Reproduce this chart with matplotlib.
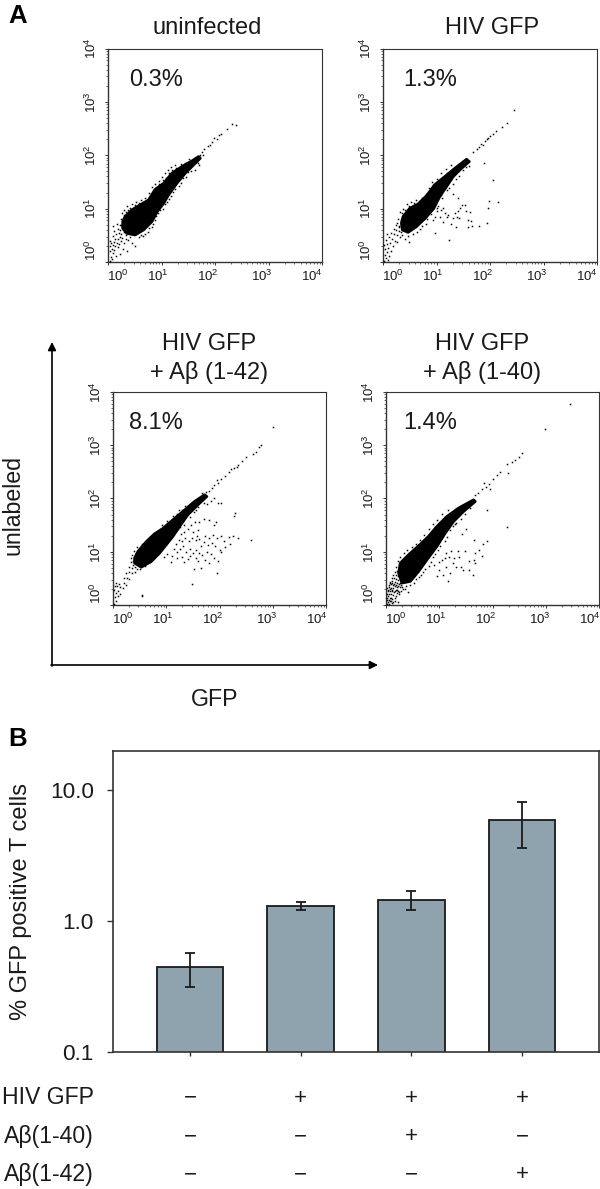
#!/usr/bin/env python3
"""Flow cytometry panels (A) and GFP positive T cell bars (B)."""
import matplotlib
matplotlib.use("Agg")
import matplotlib.pyplot as plt
import numpy as np
from matplotlib.ticker import LogLocator, NullFormatter

plt.rcParams["font.family"] = ["Liberation Sans", "DejaVu Sans"]
plt.rcParams["mathtext.fontset"] = "custom"
plt.rcParams["mathtext.rm"] = "Liberation Sans"

W, H = 600, 1189
INK = "#1a1a1a"
FRAME = "#333333"
BAR = "#8fa3ae"

# Dot plot data, as log10 of (GFP, unlabeled). *_CORE is the outline of the
# solid black cloud, *_DOTS the single events that can be told apart.
UNINF_CORE = [(.275, .756), (.319, .85), (.444, .975), (.60, 1.07), (.756, 1.16), (.881, 1.36),
              (1.04, 1.475), (1.194, 1.663), (1.381, 1.788), (1.569, 1.894), (1.694, 1.975),
              (1.725, 1.944), (1.60, 1.819), (1.444, 1.663), (1.288, 1.475), (1.131, 1.256),
              (1.04, 1.10), (.92, .944), (.82, .756), (.663, .60), (.506, .506), (.35, .5375),
              (.275, .631)]
UNINF_DOTS = [(.03, .02), (.05, .1), (.08, .05), (.1, .16), (.04, .2), (.07, .25), (.12, .22), (.15, .12),
              (.03, .3), (.09, .32), (.14, .3), (.18, .28), (.06, .36), (.11, .38), (.16, .36), (.2, .34),
              (.24, .4), (.04, .4), (.13, .44), (.19, .43), (.09, .48), (.23, .47), (.27, .45), (.15, .52),
              (.2, .55), (.25, .52), (.12, .58), (.18, .62), (.23, .6), (.1, .68), (.22, .7), (.16, .72),
              (.26, .66), (.28, .74), (.25, .8), (.33, .44), (.38, .42), (.45, .36), (.5, .3), (.3, .35),
              (.28, .25), (.22, .15), (.35, .2), (.3, .88), (.34, .94), (.38, .98), (.42, 1.02), (.5, 1.06),
              (.58, 1.1), (.66, 1.13), (.74, 1.17), (.8, 1.24), (.84, 1.32), (.9, 1.38), (.96, 1.46),
              (1.02, 1.54), (1.08, 1.58), (1.14, 1.66), (1.2, 1.72), (1.28, 1.77), (1.36, 1.83), (1.44, 1.86),
              (1.52, 1.93), (.62, .5), (.7, .52), (.76, .64), (.84, .72), (.9, .86), (.98, .98), (1.06, 1.08),
              (1.14, 1.18), (1.22, 1.32), (1.32, 1.42), (1.4, 1.58), (1.5, 1.68), (1.62, 1.72), (1.68, 1.85),
              (1.64, 1.9), (1.72, 2.0), (1.76, 2.06), (1.8, 2.12), (1.86, 2.18), (1.9, 2.2), (1.94, 2.25),
              (1.98, 2.32), (2.04, 2.31), (2.08, 2.38), (2.12, 2.4), (2.22, 2.5), (2.32, 2.58), (2.4, 2.56),
              (1.7, 1.82), (1.78, 2.0), (.26, .92), (.3, .98), (.36, 1.04), (.44, 1.08), (.52, 1.12),
              (.62, 1.16), (.7, 1.2), (.77, 1.3), (.82, 1.4), (.88, 1.46), (.95, 1.52), (1.0, 1.6),
              (1.06, 1.66), (1.12, 1.72), (1.18, 1.78), (1.26, 1.82), (.58, .46), (.66, .48), (.74, .56),
              (.82, .66), (.88, .78), (.94, .92), (1.02, 1.0), (1.1, 1.12), (1.18, 1.24), (1.26, 1.36),
              (1.36, 1.48), (1.46, 1.6), (1.56, 1.7), (.42, .46), (.34, .5), (.3, .56), (.25, .7)]

HIV_CORE = [(.344, .725), (.375, .85), (.50, 1.006), (.656, 1.0875), (.8125, 1.24), (.969, 1.45),
            (1.156, 1.60), (1.344, 1.756), (1.5625, 1.925), (1.6125, 1.881), (1.469, 1.756), (1.3125, 1.60),
            (1.1875, 1.4125), (1.06, 1.225), (.95, 1.006), (.79, .819), (.625, .6625), (.469, .556),
            (.3625, .60)]
HIV_DOTS = [(.02, .02), (.05, .08), (.09, .04), (.03, .14), (.07, .18), (.12, .12), (.04, .24), (.1, .26),
            (.15, .2), (.02, .32), (.08, .34), (.14, .36), (.18, .3), (.05, .42), (.11, .46), (.17, .44),
            (.22, .4), (.27, .38), (.08, .52), (.15, .54), (.21, .52), (.26, .5), (.31, .46), (.2, .62),
            (.25, .6), (.3, .58), (.24, .7), (.29, .68), (.33, .78), (.28, .8), (.36, .5), (.42, .44),
            (.48, .38), (.36, .92), (.42, .98), (.48, 1.04), (.58, 1.1), (.7, 1.14), (.78, 1.2), (.86, 1.3),
            (.94, 1.44), (1.04, 1.5), (1.1, 1.58), (1.2, 1.66), (1.3, 1.74), (1.42, 1.84), (1.5, 1.9),
            (.7, .62), (.8, .72), (.9, .9), (1.0, 1.02), (1.1, 1.2), (1.24, 1.38), (1.36, 1.56),
            (1.5, 1.72), (1.6, 1.8),
            (2.45, 2.85), (2.31, 2.6), (2.22, 2.53), (2.11, 2.45), (2.05, 2.39), (1.97, 2.32), (1.91, 2.26),
            (1.83, 2.21), (1.75, 2.11), (1.68, 2.06), (1.8, 2.16), (1.87, 2.2), (1.94, 2.3), (2.0, 2.36),
            (1.88, 1.85), (2.06, 1.53), (1.98, 1.14), (1.96, 1.02), (2.15, 1.12), (1.94, .73), (1.79, .68),
            (1.67, .68), (1.59, .66), (1.65, .76), (1.59, .79), (1.62, .94), (1.53, 1.07), (1.47, 1.07),
            (1.44, 1.01), (1.41, .96), (1.39, .85), (1.42, .82), (1.37, .66), (1.3, .82), (1.22, .88),
            (1.16, .91), (1.09, .98), (1.03, 1.04), (.97, .85), (.94, .79), (1.24, .41), (.97, .55),
            (1.41, 1.19), (1.3, 1.28), (1.13, 1.01), (1.19, .85), (1.06, .85), (1.0, .95), (1.55, .95),
            (1.27, .72), (1.12, .75), (1.35, .92), (.32, .94), (.38, 1.0), (.44, 1.08), (.52, 1.12),
            (.62, 1.16), (.72, 1.2), (.8, 1.28), (.86, 1.38), (.92, 1.5), (1.0, 1.56), (1.08, 1.66),
            (1.18, 1.74), (1.28, 1.82), (.46, .48), (.56, .52), (.64, .56), (.72, .68), (.82, .8),
            (.9, .98), (.98, 1.1), (1.08, 1.26), (1.2, 1.34), (1.3, 1.46), (1.42, 1.62), (1.56, 1.78),
            (.34, .56), (.3, .66), (.27, .74)]

A42_CORE = [(.406, .881), (.469, 1.006), (.625, 1.19), (.781, 1.3375), (.9375, 1.4375), (1.125, 1.60),
            (1.3125, 1.756), (1.531, 1.944), (1.719, 2.069), (1.7625, 2.0375), (1.594, 1.881), (1.406, 1.694),
            (1.25, 1.475), (1.125, 1.2875), (1.0, 1.131), (.875, .975), (.72, .819), (.53, .71),
            (.406, .7875)]
A42_DOTS = [(.02, .02), (.06, .08), (.03, .15), (.09, .16), (.05, .22), (.02, .28), (.1, .26), (.14, .2),
            (.03, .35), (.08, .36), (.13, .34), (.18, .32), (.05, .42), (.12, .4), (.2, .42), (.25, .38),
            (.55, .17), (.2, .5), (.26, .5), (.3, .48), (.24, .6), (.3, .62), (.36, .6), (.3, .72), (.36, .7),
            (.38, .82), (.34, .8), (.42, .62), (.45, .68), (.44, .98), (.5, 1.06), (.6, 1.14), (.7, 1.22),
            (.82, 1.3), (.9, 1.42), (1.0, 1.5), (1.1, 1.6), (1.2, 1.7), (1.3, 1.78), (1.4, 1.86), (1.5, 1.94),
            (1.75, 2.12), (1.8, 2.15), (1.85, 2.2), (1.9, 2.25), (1.97, 2.3), (2.02, 2.36), (2.1, 2.43),
            (2.18, 2.5), (2.28, 2.57), (2.35, 2.63), (2.42, 2.71), (2.49, 2.78), (2.75, 2.96), (2.78, 3.0),
            (3.0, 3.35), (2.62, 2.84), (2.68, 2.88), (2.22, 2.55), (2.32, 2.6), (1.68, 2.1), (1.96, 2.34),
            (1.9, 2.0), (1.98, 1.92), (1.84, 1.96), (1.76, 1.9), (1.7, 1.92), (1.6, 1.84), (1.52, 1.75),
            (2.02, 1.92), (2.28, 1.68), (2.3, 1.72), (1.94, 1.55), (1.9, 1.5), (1.8, 1.6), (1.7, 1.62),
            (1.62, 1.56), (1.54, 1.55), (1.46, 1.5), (1.4, 1.42), (1.34, 1.38), (1.28, 1.34), (1.5, 1.38),
            (1.6, 1.4), (1.72, 1.3), (1.8, 1.26), (1.88, 1.32), (1.95, 1.25), (2.02, 1.3), (2.08, 1.2),
            (2.18, 1.28), (2.25, 1.3), (2.34, 1.26), (2.6, 1.22), (2.2, 1.14), (2.1, 1.08), (2.0, 1.04),
            (1.92, 1.1), (1.86, 1.16), (1.78, 1.12), (1.7, 1.18), (1.62, 1.24), (1.55, 1.22), (1.48, 1.26),
            (1.42, 1.2), (1.36, 1.26), (1.3, 1.2), (1.24, 1.22), (1.18, 1.14), (1.14, 1.06), (1.2, 1.0),
            (1.26, 1.06), (1.32, 1.1), (1.38, 1.0), (1.44, 1.06), (1.5, .98), (1.56, 1.04), (1.62, .98),
            (1.68, .94), (1.76, 1.0), (1.84, .96), (1.9, .88), (1.98, .82), (1.8, .78), (1.6, .82),
            (1.52, .68), (1.66, .7), (1.95, .6), (1.55, .88), (1.4, .86), (1.3, .9), (1.2, .88), (1.1, .92),
            (1.02, .96), (.95, .9), (1.48, .4), (.55, .18), (1.08, .8), (1.72, .84), (1.44, .92), (1.34, .8),
            (2.02, 1.0), (1.58, 1.3), (1.66, 1.1), (1.26, 1.46), (1.33, 1.5), (.36, .94), (.4, 1.02),
            (.46, 1.08), (.54, 1.14), (.64, 1.2), (.74, 1.26), (.84, 1.38), (.92, 1.5), (1.02, 1.58),
            (1.12, 1.68), (1.24, 1.78), (1.36, 1.86), (.42, .72), (.5, .68), (.6, .74), (.7, .8), (.78, .9),
            (.86, 1.02), (.96, 1.12), (1.04, 1.22), (1.12, 1.34), (1.22, 1.42), (1.32, 1.58), (1.44, 1.66),
            (1.56, 1.78), (.38, .76), (.33, .88)]

A40_CORE = [(.2375, .6), (.269, .7875), (.425, .944), (.644, 1.14), (.8, 1.29), (.956, 1.475), (1.144, 1.6625),
            (1.3625, 1.819), (1.644, 1.975), (1.675, 1.944), (1.456, 1.756), (1.269, 1.569), (1.1125, 1.35),
            (.956, 1.10), (.769, .85), (.6125, .631), (.456, .444), (.3, .4125)]
A40_DOTS = [(.01, .02), (.03, .05), (.06, .02), (.02, .09), (.05, .1), (.09, .07), (.12, .03), (.01, .14),
            (.04, .16), (.08, .14), (.12, .12), (.16, .08), (.02, .2), (.06, .21), (.1, .2), (.14, .18),
            (.19, .16), (.22, .06), (.03, .26), (.07, .27), (.11, .26), (.15, .24), (.2, .22), (.25, .2),
            (.02, .32), (.06, .33), (.1, .32), (.14, .31), (.18, .29), (.23, .27), (.28, .26), (.05, .38),
            (.09, .39), (.13, .38), (.17, .36), (.21, .34), (.26, .33), (.31, .3), (.08, .44), (.12, .45),
            (.16, .43), (.2, .41), (.24, .4), (.29, .38), (.36, .3), (.42, .25), (.11, .5), (.15, .51),
            (.19, .49), (.23, .47), (.13, .56), (.18, .56), (.22, .55), (.16, .62), (.2, .64), (.19, .72),
            (.24, .76), (.3, .84), (.36, .9), (.44, .98), (.52, 1.02), (.6, 1.1), (.68, 1.18), (.76, 1.26),
            (.84, 1.36), (.92, 1.46), (1.0, 1.54), (1.1, 1.65), (1.2, 1.72), (1.32, 1.8), (1.44, 1.88),
            (.52, .42), (.62, .52), (.7, .62), (.8, .74), (.88, .9), (.98, 1.04), (1.1, 1.2), (1.2, 1.4),
            (1.32, 1.54), (1.48, 1.7), (1.58, 1.82),
            (3.45, 3.77), (2.98, 3.3), (2.55, 2.86), (2.49, 2.78), (2.43, 2.72), (2.37, 2.68), (2.27, 2.64),
            (2.3, 2.47), (2.14, 2.5), (2.08, 2.44), (2.0, 2.36), (1.93, 2.28), (1.87, 2.22), (1.8, 2.18),
            (1.73, 2.1), (1.96, 2.18), (1.68, 2.06), (1.84, 2.3), (1.9, 1.78), (2.28, 1.46), (1.9, 1.2),
            (1.66, 1.22), (1.83, 1.14), (1.75, 1.03), (1.67, .98), (1.8, .92), (1.65, .85), (1.67, .78),
            (1.63, .57), (1.55, .65), (1.45, .66), (1.31, .72), (1.2, .61), (1.07, .56), (1.17, .45),
            (.95, .55), (1.43, 1.33), (1.5, 1.42), (1.3, 1.52), (1.35, 1.02), (1.48, 1.02), (1.22, 1.01),
            (1.28, .88), (1.18, .9), (1.1, .88), (1.05, .84), (1.13, .98), (1.0, .8), (1.25, .78), (.9, .75),
            (1.4, .72), (1.55, .82), (1.0, .65), (1.12, .72), (1.38, .9), (.22, .82), (.27, .9), (.33, .97),
            (.4, 1.04), (.48, 1.08), (.56, 1.14), (.64, 1.22), (.72, 1.32), (.8, 1.42), (.88, 1.52),
            (.96, 1.6), (1.06, 1.7), (1.16, 1.78), (.3, .34), (.38, .36), (.46, .38), (.56, .48), (.66, .56),
            (.74, .68), (.84, .8), (.92, .96), (1.02, 1.1), (1.14, 1.28), (1.26, 1.48), (1.4, 1.62),
            (.07, .08), (.1, .14), (.14, .05), (.17, .13), (.04, .29), (.08, .3), (.12, .29), (.16, .27),
            (.2, .28), (.25, .25), (.07, .41), (.11, .42), (.15, .4), (.19, .37), (.23, .36), (.27, .42)]

PANEL_TITLES = ["uninfected", "HIV GFP", "HIV GFP\n+ Aβ (1-42)", "HIV GFP\n+ Aβ (1-40)"]
PERCENTS = ["0.3%", "1.3%", "8.1%", "1.4%"]
DECADES = [0, 1, 2, 3, 4]

# Bar panel
CONDITIONS = [0, 1, 2, 3]
GFP_POSITIVE = [0.443, 1.31, 1.45, 5.87]
ERR_LOW = [0.315, 1.207, 1.22, 3.63]
ERR_HIGH = [0.567, 1.40, 1.69, 8.05]
ROW_NAMES = ["HIV GFP", "Aβ(1-40)", "Aβ(1-42)"]
ROW_SIGNS = [["−", "+", "+", "+"], ["−", "−", "+", "−"], ["−", "−", "−", "+"]]
BAR_TICKS = [0.1, 1.0, 10.0]
BAR_TICK_LABELS = ["0.1", "1.0", "10.0"]


def pixel_axes(fig, left, top, right, bottom):
    return fig.add_axes([left / W, 1 - bottom / H, (right - left) / W, (bottom - top) / H])


def dot_panel(fig, over, box, core, dots, title, title_xy, percent, percent_xy):
    left, top, right, bottom = box
    ax = pixel_axes(fig, *box)
    ax.set_xscale("log")
    ax.set_yscale("log")
    ax.set_xlim(1, 1e4)
    ax.set_ylim(1, 1e4)
    core = 10 ** np.array(core)
    dots = 10 ** np.array(dots)
    ax.fill(core[:, 0], core[:, 1], color="black", lw=2.0, joinstyle="round", zorder=2)
    ax.scatter(dots[:, 0], dots[:, 1], s=1.2, marker="s", color="black", lw=0, zorder=3, snap=False)

    for axis in (ax.xaxis, ax.yaxis):
        axis.set_major_locator(LogLocator(base=10, numticks=6))
        axis.set_minor_locator(LogLocator(base=10, subs=range(2, 10), numticks=6))
        axis.set_major_formatter(NullFormatter())
        axis.set_minor_formatter(NullFormatter())
    ax.tick_params(which="major", length=2.4, width=0.7, color=FRAME)
    ax.tick_params(which="minor", length=1.2, width=0.5, color=FRAME)
    for name, spine in ax.spines.items():
        spine.set_color(FRAME)
        spine.set_linewidth(1.0 if name in ("left", "bottom") else 0.8)

    # the tick labels sit off their ticks in the original, so place them by hand
    x_offsets = [10, 50, 100, 154, 204]
    y_offsets = [12, 0, 0, 0, 0]
    for dec, dx, dy in zip(DECADES, x_offsets, y_offsets):
        tick_y = bottom - dec * (bottom - top) / 4
        label = rf"$\mathregular{{10^{{{dec}}}}}$"
        over.text(left + dx, bottom + 14, label, fontsize=9.5, ha="center", va="center", color=INK)
        over.text(left - 17, tick_y - dy, label, fontsize=9.5, ha="center", va="center",
                  rotation=90, color=INK)
    over.text(*title_xy, title, fontsize=17, ha="center", va="center", color=INK, linespacing=1.34)
    over.text(*percent_xy, percent, fontsize=17, ha="left", va="center", color=INK)


def bar_panel(fig, over):
    ax = pixel_axes(fig, 113, 751, 599, 1052)
    ax.set_yscale("log")
    low = np.array(GFP_POSITIVE) - np.array(ERR_LOW)
    high = np.array(ERR_HIGH) - np.array(GFP_POSITIVE)
    ax.bar(CONDITIONS, GFP_POSITIVE, width=0.6, color=BAR, edgecolor=INK, linewidth=1.3)
    ax.errorbar(CONDITIONS, GFP_POSITIVE, yerr=[low, high], fmt="none", ecolor=INK,
                elinewidth=1.3, capsize=3.9, capthick=1.3)
    ax.set_xlim(-0.696, 3.696)
    ax.set_ylim(0.1, 19.8)
    ax.set_xticks(CONDITIONS)
    ax.set_xticklabels([])
    ax.set_yticks(BAR_TICKS)
    ax.set_yticklabels(BAR_TICK_LABELS, fontsize=16.2, color=INK)
    ax.yaxis.set_minor_locator(plt.NullLocator())
    ax.tick_params(axis="y", length=4.3, width=1, color=FRAME, pad=9.5)
    ax.tick_params(axis="x", length=3, width=1, color=FRAME)
    for spine in ax.spines.values():
        spine.set_color(FRAME)
        spine.set_linewidth(1.2)
    over.text(21, 902, "% GFP positive T cells", fontsize=17, rotation=90, ha="center",
              va="center", color=INK)

    for y, name, signs in zip((1098, 1137, 1175), ROW_NAMES, ROW_SIGNS):
        over.text(94, y, name, fontsize=16.6, ha="right", va="center", color=INK)
        for x, sign in zip((190, 300.7, 411, 522), signs):
            over.text(x, y, sign, fontsize=16, ha="center", va="center", color=INK)


def main():
    fig = plt.figure(figsize=(W / 100, H / 100), dpi=100)
    over = fig.add_axes([0, 0, 1, 1], zorder=5)
    over.set_xlim(0, W)
    over.set_ylim(H, 0)
    over.axis("off")
    over.patch.set_alpha(0)

    dot_panel(fig, over, (108, 48.5, 322, 262), UNINF_CORE, UNINF_DOTS, PANEL_TITLES[0], (207, 28),
              PERCENTS[0], (129, 80))
    dot_panel(fig, over, (383, 48.5, 597, 262), HIV_CORE, HIV_DOTS, PANEL_TITLES[1], (492, 28),
              PERCENTS[1], (403, 80))
    dot_panel(fig, over, (113, 392, 326, 605), A42_CORE, A42_DOTS, PANEL_TITLES[2], (209, 358.5),
              PERCENTS[2], (129, 423))
    dot_panel(fig, over, (386, 392, 599, 605), A40_CORE, A40_DOTS, PANEL_TITLES[3], (482, 358.5),
              PERCENTS[3], (403, 423))
    bar_panel(fig, over)

    over.text(18, 16, "A", fontsize=18.5, fontweight="bold", ha="center", va="center", color="black")
    over.text(18, 739, "B", fontsize=18.5, fontweight="bold", ha="center", va="center", color="black")

    # axis arrows shared by the lower dot plots
    style = dict(arrowstyle="-|>", mutation_scale=12, lw=1.2, color="black", shrinkA=0, shrinkB=0)
    over.annotate("", xy=(52, 342), xytext=(52, 666), arrowprops=style)
    over.annotate("", xy=(378, 665), xytext=(51, 665), arrowprops=style)
    over.text(13, 505, "unlabeled", fontsize=16.7, rotation=90, ha="center", va="center", color=INK)
    over.text(215, 700, "GFP", fontsize=16.7, ha="center", va="center", color=INK)

    fig.savefig("out.png", dpi=100, facecolor="white")


if __name__ == "__main__":
    main()
